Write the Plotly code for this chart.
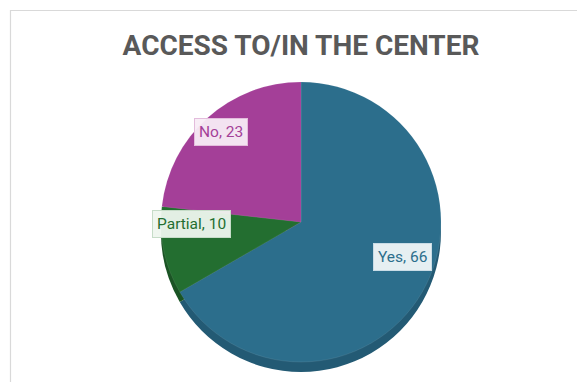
import math
import plotly.graph_objects as go

# ---- data ----
categories = ["Yes", "Partial", "No"]
values = [66, 10, 23]
title_text = "ACCESS TO/IN THE CENTER"

# ---- styles ----
top_colors = ["#2C6E8C", "#236E30", "#A43F98"]
side_colors = ["#235A74", "#1A5424", "#80306F"]
text_colors = ["#2C6E8C", "#236E30", "#A43F98"]
box_bg = ["rgba(240,245,248,0.95)", "rgba(238,245,238,0.95)", "rgba(248,236,246,0.95)"]
box_border = ["#C9DCE6", "#C6DCC8", "#E3BCDC"]
label_r = [0.77, 0.78, 0.86]
label_angle_offset = [-11.0, 11.0, 0.0]

W, H = 577, 382
cx_px, cy_px, r_px = 301, 222, 140
depth_px = 10

def dom(cy):
    return dict(x=[(cx_px - r_px) / W, (cx_px + r_px) / W],
                y=[1 - (cy + r_px) / H, 1 - (cy - r_px) / H])

fig = go.Figure()
# side (depth) layer
fig.add_trace(go.Pie(labels=categories, values=values, sort=False, direction="clockwise",
                     rotation=0, domain=dom(cy_px + depth_px), textinfo="none",
                     marker=dict(colors=side_colors, line=dict(width=0)),
                     hoverinfo="skip", showlegend=False))
# top face
fig.add_trace(go.Pie(labels=categories, values=values, sort=False, direction="clockwise",
                     rotation=0, domain=dom(cy_px), textinfo="none",
                     marker=dict(colors=top_colors, line=dict(width=0.6, color="rgba(255,255,255,0.15)")),
                     hoverinfo="skip", showlegend=False))

# data labels placed around slice mid-angles
total = sum(values)
cum = 0
for i, (cat, v) in enumerate(zip(categories, values)):
    mid = (cum + v / 2) / total * 2 * math.pi + math.radians(label_angle_offset[i])
    cum += v
    dx = math.sin(mid) * r_px * label_r[i]
    dy = math.cos(mid) * r_px * label_r[i]
    fig.add_annotation(x=(cx_px + dx) / W, y=1 - (cy_px - dy) / H, xref="paper", yref="paper",
                       xanchor="center", yanchor="middle",
                       text=f"{cat}, {v}", showarrow=False,
                       font=dict(family="Roboto", size=15.5, color=text_colors[i]),
                       bgcolor=box_bg[i], bordercolor=box_border[i], borderwidth=1, borderpad=4)

# chart frame
fig.add_shape(type="rect", xref="paper", yref="paper", x0=10.5 / W, x1=1.05, y0=-0.05, y1=1 - 10.5 / H,
              line=dict(color="#D9D9D9", width=1.2), fillcolor="rgba(0,0,0,0)")

fig.update_layout(
    width=W, height=H, margin=dict(l=0, r=0, t=0, b=0),
    paper_bgcolor="white", plot_bgcolor="white",
    title=dict(text=f"<b>{title_text}</b>", x=(cx_px) / W, xanchor="center", y=1 - 45 / H, yanchor="middle",
               font=dict(family="Roboto", size=28, color="#595959")),
)

fig.write_html("out.html")
